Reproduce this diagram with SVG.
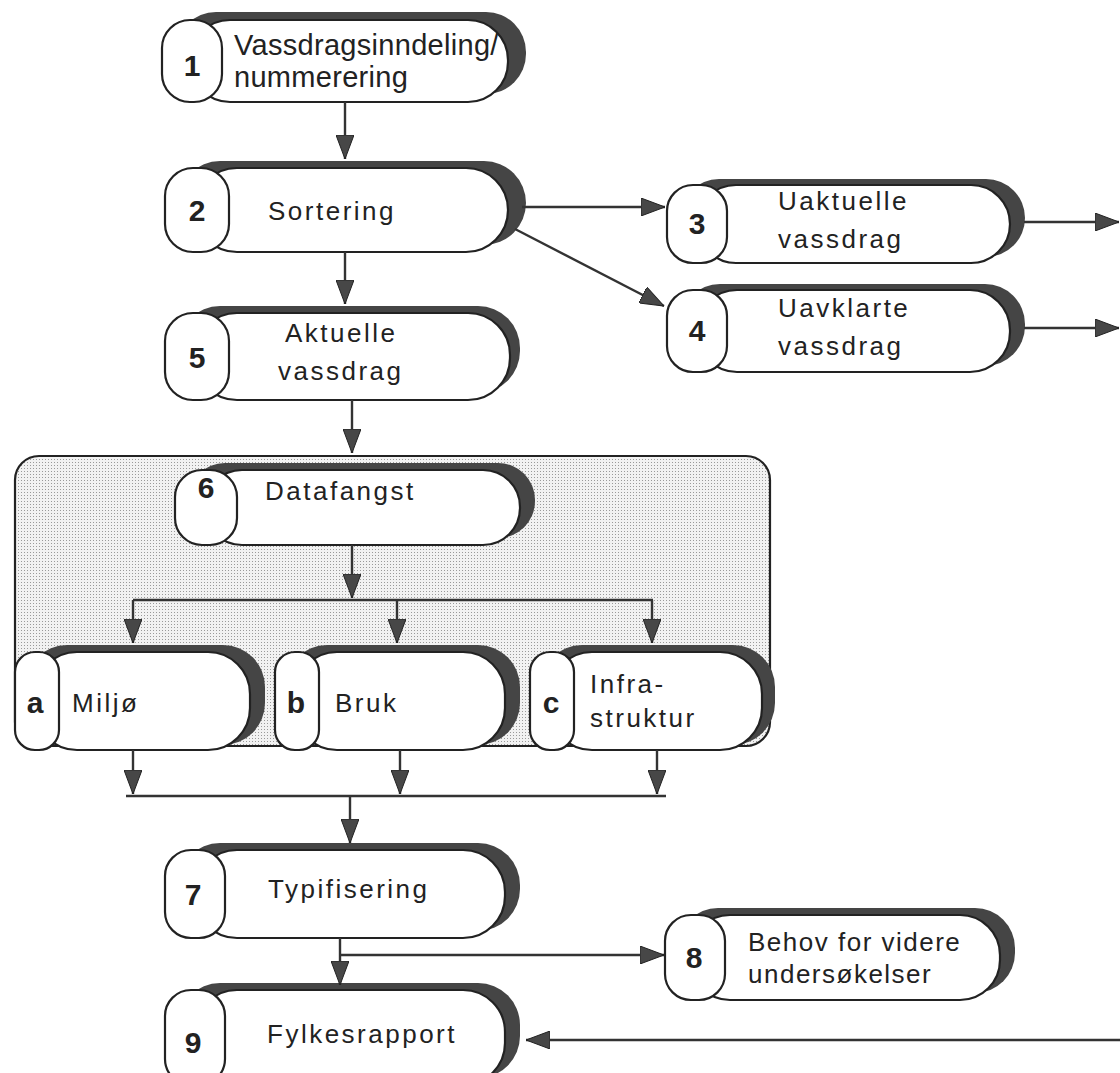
<svg xmlns="http://www.w3.org/2000/svg" width="1120" height="1073" viewBox="0 0 1120 1073">
<defs>
<pattern id="dots" width="3" height="3" patternUnits="userSpaceOnUse">
<rect width="3" height="3" fill="#f2f2f2"/>
<rect width="1" height="1" fill="#9a9a9a"/>
</pattern>
<marker id="ah" viewBox="0 0 24 18" refX="24" refY="9" markerWidth="24" markerHeight="18" markerUnits="userSpaceOnUse" orient="auto">
<path d="M0,0 L24,9 L0,18 Z" fill="#474747" stroke="#222" stroke-width="1"/>
</marker>
<style>
.sh{fill:#454545}
.bd{fill:#fff;stroke:#222;stroke-width:2.2}
.cap{fill:#fff;stroke:#222;stroke-width:2.2}
.t{font-family:"Liberation Sans",Arial,sans-serif;font-size:26px;letter-spacing:2.5px;fill:#222}
.t1{font-family:"Liberation Sans",Arial,sans-serif;font-size:29px;letter-spacing:0.3px;fill:#222}
.t8{font-family:"Liberation Sans",Arial,sans-serif;font-size:26px;letter-spacing:1.5px;fill:#222}
.n{font-family:"Liberation Sans",Arial,sans-serif;font-size:30px;font-weight:bold;fill:#222;text-anchor:middle}
.c{fill:none;stroke:#333;stroke-width:2.4}
.ca{fill:none;stroke:#333;stroke-width:2.4;marker-end:url(#ah)}
</style>
</defs>

<g id="group-datafangst">
<rect x="15" y="456" width="755" height="290" rx="24" fill="url(#dots)" stroke="#222" stroke-width="2.2"/>
</g>

<g id="node1">
<rect class="sh" x="176" y="12" width="350" height="82" rx="40"/>
<rect class="bd" x="190" y="20" width="318" height="82" rx="40"/>
<rect class="cap" x="162" y="20" width="60" height="82" rx="28"/>
<text class="n" x="192" y="76">1</text>
<text class="t1" x="234" y="55">Vassdragsinndeling/</text>
<text class="t1" x="234" y="87">nummerering</text>
</g>

<g id="node2">
<rect class="sh" x="178" y="161" width="348" height="84" rx="42"/>
<rect class="bd" x="195" y="168" width="313" height="84" rx="42"/>
<rect class="cap" x="165" y="168" width="64" height="84" rx="28"/>
<text class="n" x="197" y="221">2</text>
<text class="t" x="268" y="220">Sortering</text>
</g>

<g id="node3">
<rect class="sh" x="680" y="179" width="345" height="78" rx="39"/>
<rect class="bd" x="697" y="185" width="313" height="78" rx="39"/>
<rect class="cap" x="667" y="185" width="60" height="78" rx="26"/>
<text class="n" x="697" y="234">3</text>
<text class="t" x="778" y="210">Uaktuelle</text>
<text class="t" x="778" y="248">vassdrag</text>
</g>

<g id="node4">
<rect class="sh" x="680" y="284" width="345" height="82" rx="40"/>
<rect class="bd" x="697" y="290" width="313" height="82" rx="40"/>
<rect class="cap" x="667" y="290" width="60" height="82" rx="26"/>
<text class="n" x="697" y="341">4</text>
<text class="t" x="778" y="317">Uavklarte</text>
<text class="t" x="778" y="355">vassdrag</text>
</g>

<g id="node5">
<rect class="sh" x="178" y="306" width="342" height="87" rx="42"/>
<rect class="bd" x="195" y="313" width="315" height="87" rx="42"/>
<rect class="cap" x="165" y="313" width="64" height="87" rx="28"/>
<text class="n" x="197" y="368">5</text>
<text class="t" x="285" y="342">Aktuelle</text>
<text class="t" x="278" y="380">vassdrag</text>
</g>

<g id="node6">
<rect class="sh" x="188" y="463" width="347" height="75" rx="37"/>
<rect class="bd" x="205" y="470" width="315" height="75" rx="37"/>
<rect class="cap" x="175" y="470" width="62" height="75" rx="27"/>
<text class="n" x="206" y="498">6</text>
<text class="t" x="265" y="500">Datafangst</text>
</g>

<g id="node-a">
<rect class="sh" x="25" y="645" width="240" height="100" rx="42"/>
<rect class="bd" x="35" y="652" width="215" height="98" rx="42"/>
<rect class="cap" x="15" y="652" width="44" height="98" rx="20"/>
<text class="n" x="35" y="713">a</text>
<text class="t" x="72" y="712">Miljø</text>
</g>

<g id="node-b">
<rect class="sh" x="285" y="645" width="235" height="100" rx="42"/>
<rect class="bd" x="295" y="652" width="210" height="98" rx="42"/>
<rect class="cap" x="275" y="652" width="44" height="98" rx="20"/>
<text class="n" x="296" y="713">b</text>
<text class="t" x="335" y="712">Bruk</text>
</g>

<g id="node-c">
<rect class="sh" x="540" y="645" width="235" height="100" rx="42"/>
<rect class="bd" x="550" y="652" width="212" height="98" rx="42"/>
<rect class="cap" x="530" y="652" width="44" height="98" rx="20"/>
<text class="n" x="551" y="713">c</text>
<text class="t" x="590" y="693" letter-spacing="4">Infra-</text>
<text class="t" x="590" y="727" letter-spacing="3">struktur</text>
</g>

<g id="node7">
<rect class="sh" x="178" y="843" width="342" height="88" rx="42"/>
<rect class="bd" x="195" y="850" width="310" height="88" rx="42"/>
<rect class="cap" x="165" y="850" width="60" height="88" rx="26"/>
<text class="n" x="193" y="905">7</text>
<text class="t" x="268" y="898">Typifisering</text>
</g>

<g id="node8">
<rect class="sh" x="678" y="908" width="337" height="85" rx="40"/>
<rect class="bd" x="690" y="915" width="310" height="85" rx="40"/>
<rect class="cap" x="665" y="915" width="60" height="85" rx="26"/>
<text class="n" x="694" y="968">8</text>
<text class="t8" x="748" y="951">Behov for videre</text>
<text class="t8" x="748" y="983">undersøkelser</text>
</g>

<g id="node9">
<rect class="sh" x="178" y="983" width="342" height="95" rx="42"/>
<rect class="bd" x="195" y="990" width="310" height="95" rx="42"/>
<rect class="cap" x="165" y="990" width="60" height="95" rx="26"/>
<text class="n" x="193" y="1053">9</text>
<text class="t" x="267" y="1043">Fylkesrapport</text>
</g>

<g id="connectors">
<line class="ca" x1="345" y1="102" x2="345" y2="159"/>
<line class="ca" x1="522" y1="207" x2="665" y2="207"/>
<line class="ca" x1="515" y1="229" x2="664" y2="306"/>
<line class="ca" x1="1024" y1="222" x2="1119" y2="222"/>
<line class="ca" x1="1024" y1="328" x2="1119" y2="328"/>
<line class="ca" x1="345" y1="252" x2="345" y2="304"/>
<line class="ca" x1="352" y1="400" x2="352" y2="453"/>
<line class="ca" x1="352" y1="545" x2="352" y2="598"/>
<line class="c" x1="133" y1="600" x2="653" y2="600"/>
<line class="ca" x1="133" y1="600" x2="133" y2="643"/>
<line class="ca" x1="397" y1="600" x2="397" y2="643"/>
<line class="ca" x1="652" y1="600" x2="652" y2="643"/>
<line class="ca" x1="133" y1="750" x2="133" y2="794"/>
<line class="ca" x1="400" y1="750" x2="400" y2="794"/>
<line class="ca" x1="657" y1="750" x2="657" y2="794"/>
<line class="c" x1="126" y1="796" x2="666" y2="796"/>
<line class="ca" x1="350" y1="796" x2="350" y2="843"/>
<line class="ca" x1="340" y1="938" x2="340" y2="985"/>
<line class="ca" x1="340" y1="955" x2="664" y2="955"/>
<line class="ca" x1="1120" y1="1040" x2="526" y2="1040"/>
</g>
</svg>
